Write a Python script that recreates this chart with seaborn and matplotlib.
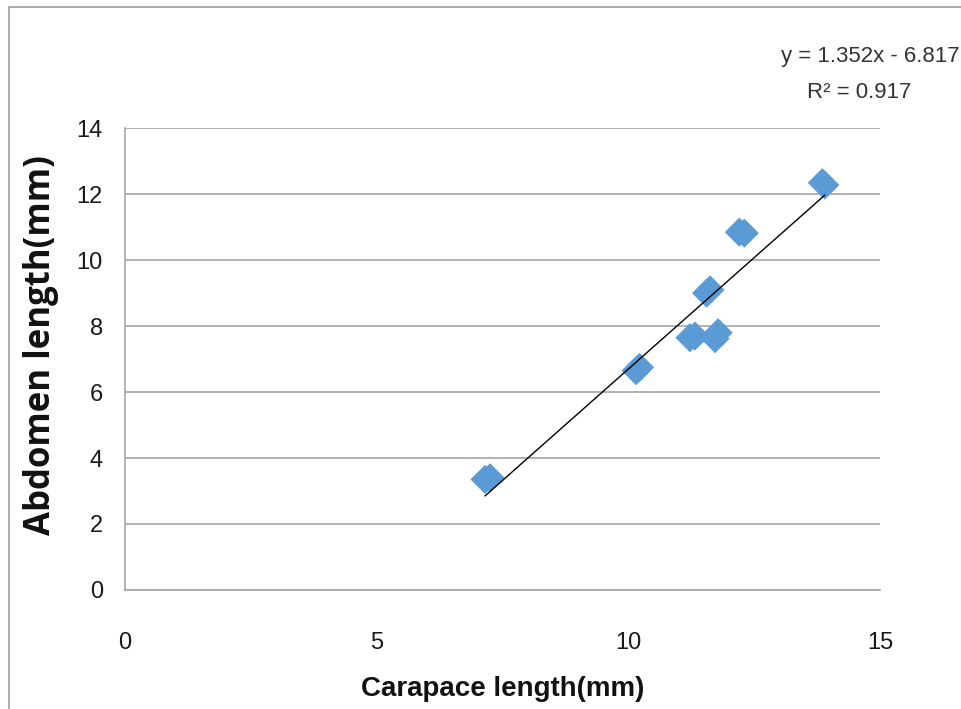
import numpy as np
import pandas as pd
import matplotlib.pyplot as plt
import seaborn as sns
from matplotlib.patches import Rectangle

sns.set_theme(style="white")
plt.rcParams["font.family"] = ["Liberation Sans Narrow", "Liberation Sans", "DejaVu Sans"]

# carapace vs abdomen length (mm)
carapace = [7.15, 7.25, 10.15, 10.22, 11.22, 11.32, 11.72, 11.78, 11.55, 11.62, 12.2, 12.3, 13.85, 13.9]
abdomen = [3.35, 3.40, 6.65, 6.75, 7.65, 7.70, 7.62, 7.80, 9.00, 9.10, 10.85, 10.82, 12.35, 12.28]

# trendline from the equation label
slope = 1.352
intercept = -6.817
r2 = 0.917

df = pd.DataFrame({"carapace": carapace, "abdomen": abdomen})

fig = plt.figure(figsize=(9.62, 7.09), dpi=100)
ax = fig.add_axes([0.130, 0.168, 0.785, 0.651])

# outer chart frame
fig.patches.append(Rectangle((9 / 962, -0.1), 1.2, 1 - 7 / 709 + 0.1, transform=fig.transFigure,
                             fill=False, edgecolor="#a0a0a0", linewidth=1.2))

sns.scatterplot(data=df, x="carapace", y="abdomen", marker="D", s=220, color="#5b9bd5",
                edgecolor="none", ax=ax, zorder=3)

xs = np.array([min(carapace), max(carapace)])
ax.plot(xs, slope * xs + intercept, color="black", linewidth=1, zorder=4)

ax.set_xlim(0, 15)
ax.set_ylim(0, 14)
ax.set_xticks([0, 5, 10, 15])
ax.set_yticks(range(0, 15, 2))
ax.yaxis.grid(True, color="#a6a6a6", linewidth=1.2)
ax.set_axisbelow(True)
for side in ["top", "right"]:
    ax.spines[side].set_visible(False)
for side in ["left", "bottom"]:
    ax.spines[side].set_color("#a6a6a6")
    ax.spines[side].set_linewidth(1.2)
ax.tick_params(axis="both", length=8, width=1.2, color="#a6a6a6", labelsize=17, labelcolor="#1a1a1a", direction="out")
ax.tick_params(axis="x", pad=22)
ax.tick_params(axis="y", pad=8)

ax.set_xlabel("Carapace length(mm)", fontsize=20, fontweight="bold", labelpad=16, color="#111111")
ax.set_ylabel("Abdomen length(mm)", fontsize=25, fontweight="bold", color="#111111",
              family=["Open Sans", "DejaVu Sans"])
ax.yaxis.set_label_coords(-0.088, 0.53)

fig.text(0.998, 0.921, f"y = {slope}x - {abs(intercept)}", ha="right", va="center", fontsize=16, color="#333333")
fig.text(0.893, 0.869, f"R² = {r2}", ha="center", va="center", fontsize=16, color="#333333")

fig.savefig("out.png", dpi=100, facecolor="white")
